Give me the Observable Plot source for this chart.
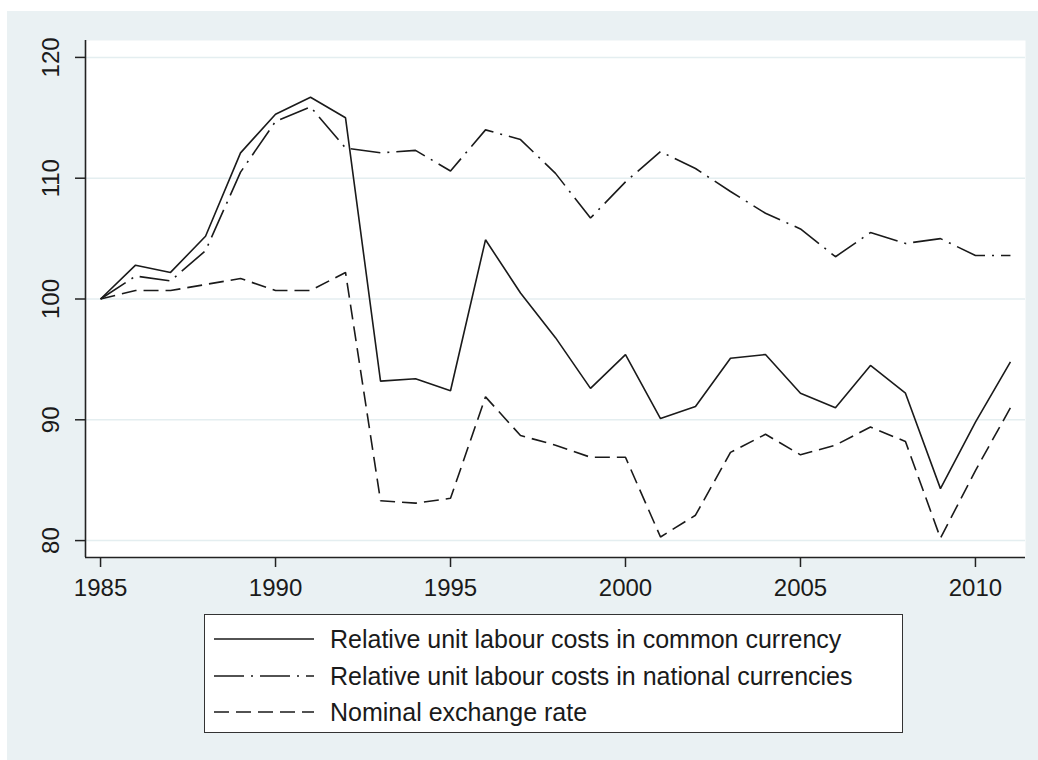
<!DOCTYPE html>
<html>
<head>
<meta charset="utf-8">
<script src="https://cdn.jsdelivr.net/npm/d3@7"></script>
<script src="https://cdn.jsdelivr.net/npm/@observablehq/plot@0.6"></script>
<style>
  html, body { margin: 0; padding: 0; background: #ffffff; }
  #wrap { position: relative; width: 1038px; height: 760px; overflow: hidden; font-family: "Liberation Sans", Arial, sans-serif; }
  #bg { position: absolute; left: 7px; top: 11px; width: 1031px; height: 749px; background: #eaf1f3; }
  #chart { position: absolute; left: 0; top: 0; }
  #legend { position: absolute; left: 204px; top: 614px; width: 697px; height: 117px; background: #fff; border: 1.5px solid #333; box-sizing: content-box; }
  .row { position: absolute; left: 0; height: 36px; display: flex; align-items: center; font-size: 25px; color: #1a1a1a; }
  .row svg { margin-left: 9px; margin-right: 16px; }
</style>
</head>
<body>
<div id="wrap">
  <div id="bg"></div>
  <div id="chart"></div>
  <div id="legend"></div>
</div>
<script>
const years = [1985,1986,1987,1988,1989,1990,1991,1992,1993,1994,1995,1996,1997,1998,1999,2000,2001,2002,2003,2004,2005,2006,2007,2008,2009,2010,2011];
const common = [100,102.8,102.2,105.2,112.1,115.3,116.7,115.0,93.2,93.4,92.4,104.9,100.5,96.8,92.6,95.4,90.1,91.1,95.1,95.4,92.2,91.0,94.5,92.2,84.3,89.8,94.8];
const national = [100,101.9,101.5,104.0,110.5,114.7,115.9,112.5,112.1,112.3,110.6,114.0,113.2,110.4,106.7,109.7,112.2,110.8,108.9,107.1,105.8,103.5,105.5,104.6,105.0,103.6,103.6];
const nominal = [100,100.7,100.7,101.2,101.7,100.7,100.7,102.2,83.3,83.1,83.5,91.9,88.7,87.9,86.9,86.9,80.3,82.1,87.3,88.8,87.1,87.9,89.4,88.2,80.2,85.8,91.0];
const seriesNames = ["Relative unit labour costs in common currency","Relative unit labour costs in national currencies","Nominal exchange rate"];
const seriesDash = [null, "30,7,2,7", "15,7"];
const xTicks = [1985,1990,1995,2000,2005,2010];
const yTicks = [80,90,100,110,120];
const xDomain = [1984.57, 2011.43];
const yDomain = [78.6, 121.4];

const seriesValues = [common, national, nominal];
const data = [];
seriesValues.forEach((vals, s) => vals.forEach((v, i) => data.push({year: years[i], value: v, series: seriesNames[s]})));

const lineMarks = seriesNames.map((name, s) =>
  Plot.lineY(data.filter(d => d.series === name), {
    x: "year", y: "value", stroke: "#1a1a1a", strokeWidth: 1.6,
    strokeDasharray: seriesDash[s] || undefined, strokeLinejoin: "miter", strokeLinecap: "butt"
  })
);

const chart = Plot.plot({
  width: 1038, height: 600,
  marginLeft: 85, marginTop: 40, marginRight: 13, marginBottom: 43,
  style: {background: "transparent", fontFamily: "'Liberation Sans', Arial, sans-serif", fontSize: "24px", color: "#1a1a1a"},
  x: {domain: xDomain},
  y: {domain: yDomain},
  marks: [
    Plot.frame({fill: "white", stroke: "none"}),
    Plot.gridY(yTicks, {stroke: "#e4eef0", strokeOpacity: 1, strokeWidth: 1.5}),
    ...lineMarks,
    Plot.ruleX([xDomain[0]], {stroke: "#222", strokeWidth: 1.6}),
    Plot.ruleY([yDomain[0]], {stroke: "#222", strokeWidth: 1.6}),
    Plot.axisY(yTicks, {tickSize: 10, tickRotate: -90, tickPadding: 17, label: null, stroke: "#222", strokeWidth: 1.5}),
    Plot.axisX(xTicks, {tickSize: 10, tickPadding: 11, tickFormat: d => String(d), label: null, stroke: "#222", strokeWidth: 1.5})
  ]
});
document.getElementById("chart").appendChild(chart);

const legend = document.getElementById("legend");
const rowTops = [6, 43, 79];
seriesNames.forEach((name, s) => {
  const row = document.createElement("div");
  row.className = "row";
  row.style.top = rowTops[s] + "px";
  const dash = seriesDash[s] ? `stroke-dasharray="${seriesDash[s]}"` : "";
  row.innerHTML = `<svg width="100" height="4"><line x1="0" x2="100" y1="2" y2="2" stroke="#1a1a1a" stroke-width="1.6" ${dash}/></svg><span>${name}</span>`;
  legend.appendChild(row);
});
</script>
</body>
</html>
